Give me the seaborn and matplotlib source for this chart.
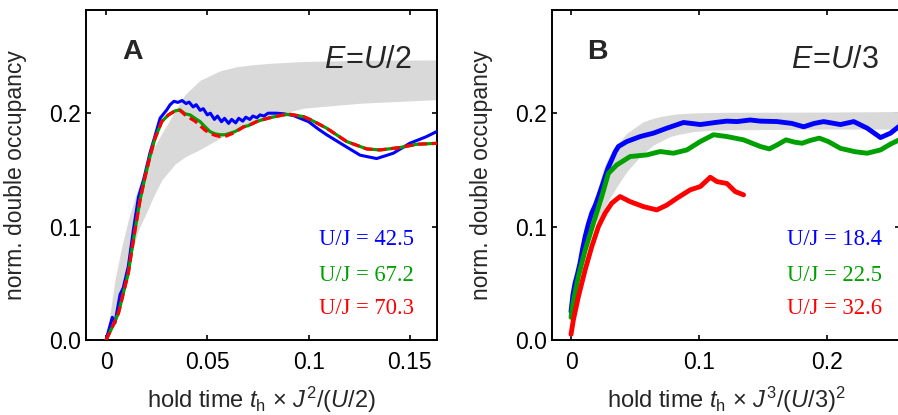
import matplotlib
matplotlib.use("Agg")
import matplotlib.pyplot as plt
import seaborn as sns

# ---------------- panel A: E = U/2 ----------------
a_blue_t = [0, 0.002, 0.0031, 0.0044, 0.0069, 0.0085, 0.011, 0.0135, 0.016, 0.0185,
            0.0217, 0.0242, 0.0267, 0.030, 0.0316, 0.0335, 0.0355, 0.0375, 0.0395, 0.041,
            0.043, 0.0445, 0.0465, 0.048, 0.050, 0.0515, 0.0535, 0.055, 0.057, 0.0585,
            0.0605, 0.062, 0.064, 0.0655, 0.0675, 0.069, 0.071, 0.0725, 0.0745, 0.076,
            0.078, 0.080, 0.0842, 0.0875, 0.0924, 0.0999, 0.1048, 0.1089, 0.1171, 0.1254,
            0.1336, 0.1418, 0.150, 0.1583, 0.164]
a_blue_d = [0, 0.013, 0.020, 0.015, 0.040, 0.046, 0.065, 0.097, 0.126, 0.141,
            0.165, 0.180, 0.1956, 0.203, 0.2074, 0.2105, 0.2095, 0.2112, 0.2085, 0.2098,
            0.2055, 0.2075, 0.2025, 0.204, 0.1985, 0.200, 0.1945, 0.1975, 0.1925, 0.1955,
            0.191, 0.1945, 0.1915, 0.1955, 0.193, 0.1965, 0.1945, 0.1975, 0.196, 0.1985,
            0.1975, 0.200, 0.200, 0.1995, 0.198, 0.1926, 0.186, 0.181, 0.172, 0.163,
            0.160, 0.1647, 0.1735, 0.1794, 0.1845]

a_green_t = [0, 0.0028, 0.0061, 0.0085, 0.011, 0.0127, 0.0143, 0.0168, 0.0193, 0.0217,
             0.0242, 0.0275, 0.0308, 0.034, 0.0365, 0.039, 0.0415, 0.0439, 0.0464, 0.0489,
             0.0513, 0.0538, 0.0563, 0.0587, 0.0612, 0.0637, 0.0678, 0.0702, 0.0744, 0.0768,
             0.081, 0.0875, 0.0908, 0.0974, 0.1007, 0.1089, 0.1188, 0.1287, 0.1352, 0.1451,
             0.1534, 0.164]
a_green_d = [0, 0.0103, 0.0235, 0.041, 0.059, 0.079, 0.097, 0.1235, 0.144, 0.162,
             0.178, 0.1926, 0.1985, 0.202, 0.2029, 0.1995, 0.1985, 0.1955, 0.1926, 0.188,
             0.1838, 0.1818, 0.181, 0.181, 0.1823, 0.1838, 0.188, 0.189, 0.1926, 0.194,
             0.196, 0.1985, 0.199, 0.197, 0.1945, 0.1868, 0.175, 0.1685, 0.1676, 0.1697,
             0.1726, 0.1735]

a_red_t = a_green_t
a_red_d = [0, 0.0103, 0.0235, 0.041, 0.059, 0.079, 0.097, 0.1235, 0.144, 0.162,
           0.178, 0.1926, 0.1985, 0.202, 0.2025, 0.1985, 0.1956, 0.193, 0.189, 0.185,
           0.1823, 0.1805, 0.1794, 0.1795, 0.1812, 0.1832, 0.1878, 0.189, 0.1926, 0.194,
           0.196, 0.1985, 0.199, 0.197, 0.1945, 0.1868, 0.175, 0.1685, 0.1676, 0.1697,
           0.1726, 0.1735]

a_band_t = [0, 0.002, 0.0044, 0.0077, 0.011, 0.0135, 0.016, 0.0209, 0.0234, 0.0275,
            0.034, 0.039, 0.0464, 0.0563, 0.0645, 0.0727, 0.081, 0.0974, 0.1254, 0.164]
a_band_lo = [0, 0.010, 0.0235, 0.045, 0.065, 0.082, 0.097, 0.116, 0.1265, 0.141,
             0.155, 0.1615, 0.168, 0.178, 0.187, 0.1926, 0.197, 0.2044, 0.2088, 0.212]
a_band_hi = [0, 0.0235, 0.053, 0.082, 0.106, 0.121, 0.135, 0.159, 0.169, 0.182,
             0.2016, 0.2165, 0.229, 0.2374, 0.241, 0.2428, 0.244, 0.2456, 0.2466, 0.247]

a_labels = ["U/J = 42.5", "U/J = 67.2", "U/J = 70.3"]

# ---------------- panel B: E = U/3 ----------------
b_blue_t = [0, 0.0015, 0.0031, 0.005, 0.007, 0.009, 0.011, 0.0135, 0.0162, 0.019,
            0.0214, 0.024, 0.0266, 0.029, 0.0318, 0.0345, 0.037, 0.0436, 0.054, 0.0644,
            0.0749, 0.0879, 0.101, 0.114, 0.1218, 0.1297, 0.140, 0.148, 0.161, 0.1725,
            0.1818, 0.190, 0.1974, 0.2105, 0.2209, 0.2314, 0.2418, 0.2496, 0.257]
b_blue_d = [0.025, 0.040, 0.050, 0.058, 0.0676, 0.080, 0.091, 0.102, 0.112, 0.119,
            0.1265, 0.135, 0.144, 0.152, 0.159, 0.166, 0.1706, 0.175, 0.1794, 0.1824,
            0.1868, 0.1918, 0.190, 0.192, 0.193, 0.1926, 0.194, 0.193, 0.1926, 0.191,
            0.188, 0.191, 0.1926, 0.190, 0.1926, 0.1868, 0.1785, 0.1824, 0.189]

b_green_t = [0, 0.002, 0.0057, 0.011, 0.0175, 0.024, 0.0292, 0.0358, 0.0462, 0.0592,
             0.0696, 0.080, 0.0905, 0.101, 0.1113, 0.1218, 0.1348, 0.148, 0.155, 0.161,
             0.168, 0.1745, 0.1805, 0.187, 0.194, 0.201, 0.2105, 0.222, 0.2314, 0.2418,
             0.250, 0.257]
b_green_d = [0.020, 0.035, 0.056, 0.079, 0.103, 0.1265, 0.147, 0.1544, 0.1618, 0.1632,
             0.1662, 0.1647, 0.1676, 0.175, 0.181, 0.1794, 0.1765, 0.1706, 0.1685, 0.172,
             0.1765, 0.1745, 0.1735, 0.176, 0.178, 0.175, 0.169, 0.166, 0.1647, 0.1676,
             0.173, 0.1768]

b_red_t = [0, 0.0018, 0.0057, 0.011, 0.0162, 0.0214, 0.0266, 0.0318, 0.0383, 0.0462,
           0.0566, 0.067, 0.0749, 0.0827, 0.0931, 0.101, 0.1088, 0.114, 0.1218, 0.1283,
           0.1348]
b_red_d = [0.005, 0.0176, 0.038, 0.0618, 0.0823, 0.100, 0.1118, 0.1206, 0.1265, 0.122,
           0.1176, 0.1147, 0.119, 0.125, 0.1324, 0.1353, 0.1435, 0.1397, 0.138, 0.1309,
           0.128]

b_band_t = [0.020, 0.025, 0.0279, 0.032, 0.0358, 0.0436, 0.054, 0.0566, 0.0644, 0.0696,
            0.0775, 0.0827, 0.0957, 0.1088, 0.1218, 0.200, 0.260]
b_band_lo = [0.100, 0.113, 0.1206, 0.128, 0.1353, 0.1485, 0.1618, 0.1645, 0.172, 0.175,
             0.1794, 0.181, 0.1838, 0.185, 0.1853, 0.186, 0.186]
b_band_hi = [0.130, 0.150, 0.158, 0.166, 0.1725, 0.1824, 0.1906, 0.1926, 0.1955, 0.197,
             0.1985, 0.1994, 0.2002, 0.2006, 0.2008, 0.201, 0.2015]

b_labels = ["U/J = 18.4", "U/J = 22.5", "U/J = 32.6"]

y_ticks = [0.0, 0.1, 0.2]
y_ticklabels = ["0.0", "0.1", "0.2"]
a_xticks = [0, 0.05, 0.1, 0.15]
a_xticklabels = ["0", "0.05", "0.1", "0.15"]
b_xticks = [0, 0.1, 0.2]
b_xticklabels = ["0", "0.1", "0.2"]

BLUE, GREEN, RED, BAND = "#0000ff", "#00a000", "#ff0000", "#d9d9d9"

sns.set_style("ticks")
plt.rcParams["font.family"] = ["Liberation Sans", "DejaVu Sans"]
plt.rcParams["mathtext.fontset"] = "custom"
plt.rcParams["mathtext.rm"] = "Liberation Sans"
plt.rcParams["mathtext.it"] = "Liberation Sans:italic"
plt.rcParams["mathtext.bf"] = "Liberation Sans:bold"

W, H = 898, 415
fig = plt.figure(figsize=(W / 100, H / 100), dpi=100)
axA = fig.add_axes([86 / W, 75 / H, 351 / W, 330 / H])
axB = fig.add_axes([551.7 / W, 75 / H, 348.5 / W, 330 / H])


def style_axes(ax, xlim, xticks, xticklabels, xlabel):
    ax.set_xlim(*xlim)
    ax.set_ylim(0, 0.291)
    ax.set_xticks(xticks)
    ax.set_xticklabels(xticklabels)
    ax.set_yticks(y_ticks)
    ax.set_yticklabels(y_ticklabels)
    for s in ax.spines.values():
        s.set_visible(True)
        s.set_linewidth(1.4)
        s.set_color("black")
    ax.tick_params(axis="both", direction="in", length=3.8, width=1.2,
                   top=True, right=True, labelsize=16.5, colors="black")
    ax.tick_params(axis="x", pad=8)
    ax.tick_params(axis="y", pad=3.5)
    ax.set_ylabel("norm. double occupancy", fontsize=16.5)
    ax.yaxis.set_label_coords(-0.169, 0.5)
    ax.set_xlabel(xlabel, fontsize=17)
    ax.xaxis.label.set_va("baseline")
    ax.xaxis.set_label_coords(0.5, -0.206)


def label_block(ax, xr, labels):
    for lab, col, yb in zip(labels, [BLUE, GREEN, RED], [0.288, 0.1797, 0.0788]):
        ax.text(xr, yb, lab, transform=ax.transAxes, ha="right", va="baseline",
                fontsize=16.3, color=col, family=["Liberation Serif", "DejaVu Serif"])


# panel A
axA.fill_between(a_band_t, a_band_lo, a_band_hi, color=BAND, lw=0, zorder=1)
sns.lineplot(x=a_blue_t, y=a_blue_d, ax=axA, color=BLUE, lw=2.2, sort=False,
             estimator=None, zorder=3)
sns.lineplot(x=a_green_t, y=a_green_d, ax=axA, color=GREEN, lw=2.3, sort=False,
             estimator=None, zorder=4)
sns.lineplot(x=a_red_t, y=a_red_d, ax=axA, color=RED, lw=2.3, sort=False,
             estimator=None, zorder=5, linestyle=(0, (2.8, 1.5)))
style_axes(axA, (-0.0099, 0.1634), a_xticks, a_xticklabels,
           r"hold time $t_\mathrm{h}$ × $J^2/(U/2)$")
axA.text(0.102, 0.8515, "A", transform=axA.transAxes, fontsize=20.5,
         fontweight="bold", ha="left", va="baseline")
axA.text(0.928, 0.824, r"$E\!=\!U/2$", transform=axA.transAxes, fontsize=22,
         ha="right", va="baseline")
label_block(axA, 0.935, a_labels)

# panel B
axB.fill_between(b_band_t, b_band_lo, b_band_hi, color=BAND, lw=0, zorder=1)
sns.lineplot(x=b_blue_t, y=b_blue_d, ax=axB, color=BLUE, lw=3.5, sort=False,
             estimator=None, zorder=3)
sns.lineplot(x=b_green_t, y=b_green_d, ax=axB, color=GREEN, lw=3.5, sort=False,
             estimator=None, zorder=4)
sns.lineplot(x=b_red_t, y=b_red_d, ax=axB, color=RED, lw=3.5, sort=False,
             estimator=None, zorder=5)
style_axes(axB, (-0.0151, 0.2572), b_xticks, b_xticklabels,
           r"hold time $t_\mathrm{h}$ × $J^3/(U/3)^2$")
axB.text(0.1015, 0.8515, "B", transform=axB.transAxes, fontsize=20.5,
         fontweight="bold", ha="left", va="baseline")
axB.text(0.938, 0.824, r"$E\!=\!U/3$", transform=axB.transAxes, fontsize=22,
         ha="right", va="baseline")
label_block(axB, 0.949, b_labels)

fig.savefig("out.png", dpi=100)
